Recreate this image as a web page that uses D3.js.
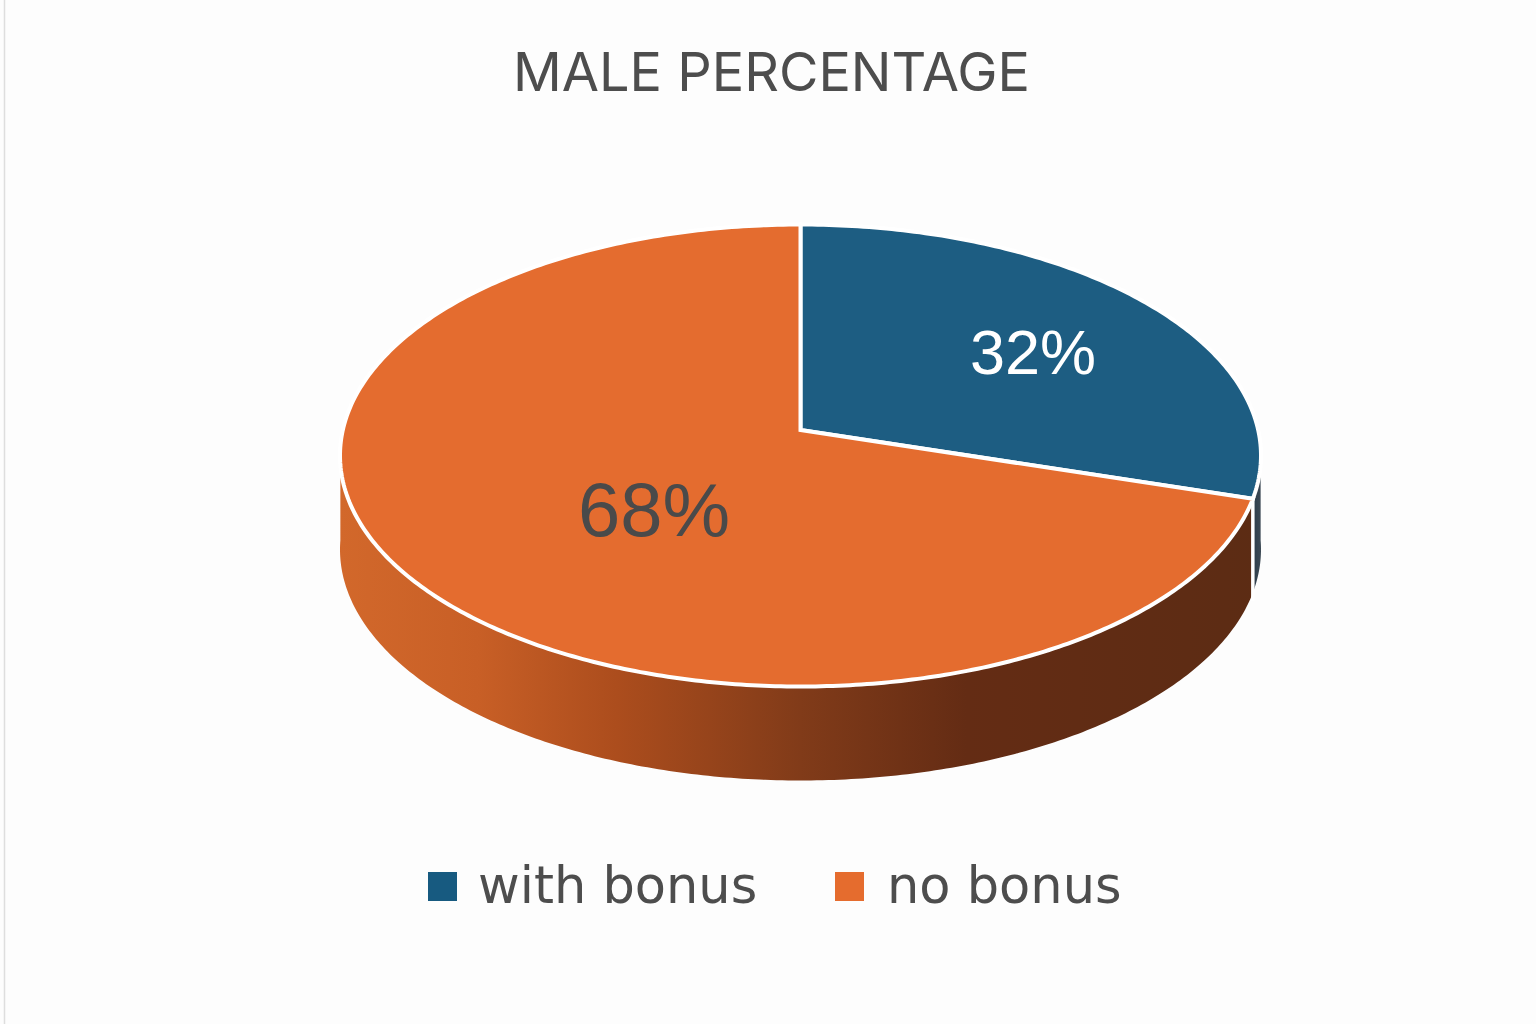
<!DOCTYPE html>
<html>
<head>
<meta charset="utf-8">
<script src="https://cdn.jsdelivr.net/npm/d3@7"></script>
<style>
  html, body { margin: 0; padding: 0; background: #fdfdfd; }
  svg { display: block; }
</style>
</head>
<body>
<div id="chart"></div>
<script>
// data
var categories = ["with bonus", "no bonus"];
var values = [32, 68];
var labels = ["32%", "68%"];
var chartTitle = "MALE PERCENTAGE";

var topColors = ["#1d5d82", "#e46c2f"];
var swatchColors = ["#175a80", "#e56c2e"];

var width = 1536, height = 1024;
var depth = 94;        // height of the pie wall
var warp = 0.326;      // view distortion of the rim angles
var apexV = -0.11;     // centre of the pie sits above the middle of the ellipse

var svg = d3.select("#chart").append("svg")
    .attr("width", width)
    .attr("height", height)
    .attr("viewBox", [0, 0, width, height].join(" "));

svg.append("line")
    .attr("x1", 4.5).attr("x2", 4.5)
    .attr("y1", 0).attr("y2", height)
    .attr("stroke", "#dedede")
    .attr("stroke-width", 1.5);

var x = d3.scaleLinear().domain([-1, 1]).range([340, 1261]);
var y = d3.scaleLinear().domain([-1, 1]).range([224.5, 686.5]);

var pie = d3.pie().sort(null).startAngle(0).endAngle(2 * Math.PI);
var slices = pie(values);

function rimAngle(a) { return a + warp * Math.sin(2 * a); }

function rimPoints(a0, a1, dy) {
    var n = Math.max(2, Math.ceil((a1 - a0) * 80));
    return d3.range(n + 1).map(function(i) {
        var a = a0 + (a1 - a0) * i / n;
        return [x(Math.sin(a)), y(-Math.cos(a)) + dy];
    });
}

var line = d3.line();

var defs = svg.append("defs");
var orangeWall = defs.append("linearGradient")
    .attr("id", "wall-orange")
    .attr("gradientUnits", "userSpaceOnUse")
    .attr("x1", x(-1)).attr("x2", x(1))
    .attr("y1", 0).attr("y2", 0);
[[0, "#d2682b"], [0.15, "#c85f26"], [0.3, "#ac4d1d"], [0.5, "#813b19"],
 [0.68, "#642c14"], [1, "#5c2c14"]].forEach(function(s) {
    orangeWall.append("stop").attr("offset", s[0]).attr("stop-color", s[1]);
});
var blueWall = defs.append("linearGradient")
    .attr("id", "wall-blue")
    .attr("x1", 0).attr("x2", 1)
    .attr("y1", 0).attr("y2", 0);
blueWall.append("stop").attr("offset", 0).attr("stop-color", "#2b3c4a");
blueWall.append("stop").attr("offset", 1).attr("stop-color", "#3d4a55");

var wallFills = ["url(#wall-blue)", "url(#wall-orange)"];

// walls: only the front half of the rim can be seen
svg.append("g").attr("class", "walls")
  .selectAll("path")
    .data(slices)
  .enter().append("path")
    .attr("d", function(d) {
        var a0 = Math.max(rimAngle(d.startAngle), Math.PI / 2 - 0.04)
          , a1 = Math.min(rimAngle(d.endAngle), 3 * Math.PI / 2 + 0.04)
        ;
        var pts = rimPoints(a0, a1, 0).concat(rimPoints(a0, a1, depth).reverse());
        return line(pts) + "Z";
    })
    .attr("fill", function(d, i) { return wallFills[i]; });

// white edge between the two walls
var split = rimAngle(slices[0].endAngle);
svg.append("line")
    .attr("x1", x(Math.sin(split)))
    .attr("x2", x(Math.sin(split)))
    .attr("y1", y(-Math.cos(split)))
    .attr("y2", y(-Math.cos(split)) + depth + 8)
    .attr("stroke", "#ffffff")
    .attr("stroke-width", 3.5);

// top face
svg.append("g").attr("class", "top")
  .selectAll("path")
    .data(slices)
  .enter().append("path")
    .attr("d", function(d) {
        var pts = [[x(0), y(apexV)]]
            .concat(rimPoints(rimAngle(d.startAngle), rimAngle(d.endAngle), 0));
        return line(pts) + "Z";
    })
    .attr("fill", function(d, i) { return topColors[i]; })
    .attr("stroke", "#ffffff")
    .attr("stroke-width", 4)
    .attr("stroke-linejoin", "miter");

// slice labels
var labelPos = [
    {x: 1033, y: 374, size: 63, fill: "#ffffff"},
    {x: 654, y: 536, size: 76, fill: "#4a4a4a"}
];
svg.append("g").attr("class", "labels")
  .selectAll("text")
    .data(labels)
  .enter().append("text")
    .attr("x", function(d, i) { return labelPos[i].x; })
    .attr("y", function(d, i) { return labelPos[i].y; })
    .attr("text-anchor", "middle")
    .attr("font-family", "'Liberation Sans', sans-serif")
    .attr("font-size", function(d, i) { return labelPos[i].size; })
    .attr("fill", function(d, i) { return labelPos[i].fill; })
    .text(function(d) { return d; });

// title
svg.append("text")
    .attr("x", 771.5)
    .attr("y", 91)
    .attr("text-anchor", "middle")
    .attr("font-family", "Inter, sans-serif")
    .attr("font-size", 54)
    .attr("fill", "#4d4d4d")
    .text(chartTitle);

// legend
var legendX = [428, 835], legendTextX = [478, 887];
var legend = svg.append("g").attr("class", "legend")
  .selectAll("g")
    .data(categories)
  .enter().append("g");
legend.append("rect")
    .attr("x", function(d, i) { return legendX[i]; })
    .attr("y", 872)
    .attr("width", 29)
    .attr("height", 29)
    .attr("fill", function(d, i) { return swatchColors[i]; });
legend.append("text")
    .attr("x", function(d, i) { return legendTextX[i]; })
    .attr("y", 903)
    .attr("font-family", "'DejaVu Sans', sans-serif")
    .attr("font-size", 51)
    .attr("fill", "#4d4d4d")
    .text(function(d) { return d; });
</script>
</body>
</html>
